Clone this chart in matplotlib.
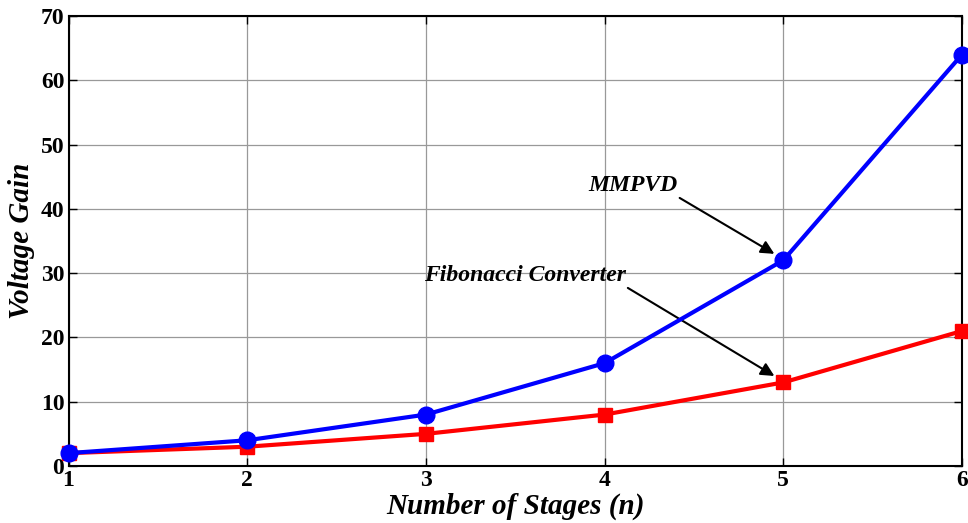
import matplotlib
matplotlib.use("Agg")
import matplotlib.pyplot as plt

stages = [1, 2, 3, 4, 5, 6]
mmpvd_gain = [2, 4, 8, 16, 32, 64]
fibonacci_gain = [2, 3, 5, 8, 13, 21]
x_ticks = [1, 2, 3, 4, 5, 6]
y_ticks = [0, 10, 20, 30, 40, 50, 60, 70]

plt.rcParams["font.family"] = ["Liberation Serif", "DejaVu Serif"]

fig = plt.figure(figsize=(9.68, 5.23), dpi=100)
ax = fig.add_axes([0.0708, 0.109, 0.923, 0.8604])

ax.plot(stages, fibonacci_gain, color="red", lw=3, marker="s", ms=10,
        zorder=3, clip_on=False)
ax.plot(stages, mmpvd_gain, color="blue", lw=3, marker="o", ms=12,
        zorder=4, clip_on=False)

ax.set_xlim(1, 6)
ax.set_ylim(0, 70)
ax.set_xticks(x_ticks)
ax.set_yticks(y_ticks)
ax.grid(True, color="#999999", lw=0.9, ls="-")
ax.set_axisbelow(True)
ax.tick_params(direction="in", length=6, width=1, labelsize=17, pad=3,
               top=True, right=True)
for lbl in ax.get_xticklabels() + ax.get_yticklabels():
    lbl.set_fontweight("bold")
for sp in ax.spines.values():
    sp.set_linewidth(1.5)

ax.set_xlabel("Number of Stages (n)", fontsize=21, fontweight="bold",
              fontstyle="italic", labelpad=1)
ax.set_ylabel("Voltage Gain", fontsize=21, fontweight="bold",
              fontstyle="italic", labelpad=4)

arrow = dict(arrowstyle="-|>", color="black", lw=1.5, mutation_scale=20,
             shrinkA=0, shrinkB=0)
ax.annotate("", xy=(4.95, 33.0), xytext=(4.42, 41.7), arrowprops=arrow)
ax.text(4.16, 43.7, "MMPVD", fontsize=17, fontweight="bold",
        fontstyle="italic", ha="center", va="center")
ax.annotate("", xy=(4.95, 14.0), xytext=(4.13, 27.7), arrowprops=arrow)
ax.text(3.555, 29.7, "Fibonacci Converter", fontsize=17, fontweight="bold",
        fontstyle="italic", ha="center", va="center")

fig.savefig("out.png", dpi=100)
